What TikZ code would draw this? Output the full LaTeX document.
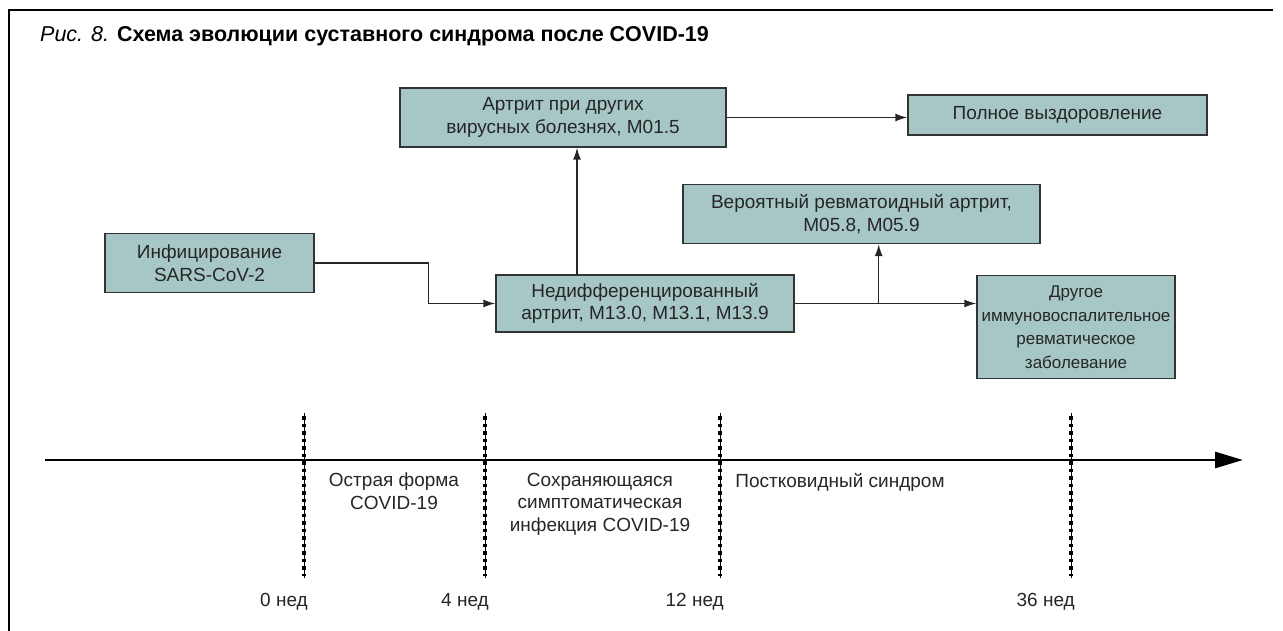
\documentclass[tikz,border=0pt]{standalone}
\usepackage{fontspec}
\setmainfont{Liberation Sans}
\usepackage{tikz}
\usetikzlibrary{arrows.meta,positioning}
\definecolor{boxfill}{HTML}{A6C7C5}
\definecolor{boxline}{HTML}{333333}

\begin{document}
\begin{tikzpicture}[x=1pt, y=-1pt, font=\fontsize{19}{22.5}\selectfont,
	box/.style={draw=boxline, fill=boxfill, line width=1.4pt, align=center, inner sep=0pt, text=black!85},
	link/.style={draw=black!85, line width=1.4pt, -{Latex[length=12pt,width=8pt]}},
	phase/.style={align=center, anchor=north, inner sep=0pt, text=black!85}]
	\useasboundingbox (0,0) rectangle (1283,631);
	% frame and title
	\draw[line width=1.4pt] (9,631) -- (9,10) -- (1273,10);
	\node[anchor=base west, inner sep=0pt] (title) at (40,42) {\fontsize{21.5}{24}\selectfont\textit{Рис. 8.} \textbf{Схема эволюции суставного синдрома после COVID-19}};
	% boxes
	\node[box, minimum width=209pt, minimum height=59pt] (inf) at (209.5,263) {Инфицирование\\SARS-CoV-2};
	\node[box, minimum width=298pt, minimum height=57pt] (undiff) at (645,303.5) {Недифференцированный\\артрит, M13.0, M13.1, M13.9};
	\node[box, minimum width=326pt, minimum height=59pt] (viral) at (563,117.5) {Артрит при других\\вирусных болезнях, M01.5};
	\node[box, minimum width=299pt, minimum height=40pt] (recov) at (1057.5,115) {Полное выздоровление};
	\node[box, minimum width=357pt, minimum height=59pt] (ra) at (861.5,214) {Вероятный ревматоидный артрит,\\M05.8, M05.9};
	\node[box, minimum width=198pt, minimum height=103pt, font=\fontsize{17}{23.5}\selectfont] (other) at (1076,327) {Другое\\иммуновоспалительное\\ревматическое\\заболевание};
	% links
	\coordinate (up) at ([xshift=-68pt]undiff.north);
	\coordinate (fork) at ([xshift=84pt]undiff.east);
	\draw[link] (inf.east) -- ++(114,0) |- (undiff.west);
	\draw[link] (up) -- (up |- viral.south);
	\draw[link] (viral.east) -- (viral.east -| recov.west);
	\draw[link] (undiff.east) -- (undiff.east -| other.west);
	\draw[link] (fork) -- (fork |- ra.south);
	% time axis
	\coordinate (t0) at (45,460);
	\coordinate (tend) at (1243,460);
	\draw[line width=2.8pt, -{Triangle[length=28pt,width=16pt]}] (t0) -- (tend);
	\foreach \x/\n in {304/0, 485/4, 720/12, 1071/36} {
		\draw[line width=0.8pt] (\x,413) -- (\x,578);
		\draw[line width=3.5pt, dash pattern=on 3.5pt off 4pt] (\x,416) -- (\x,576);
		\node[anchor=east, inner sep=0pt, text=black!85] (w\n) at (\x+4,602) {\n~нед};
	}
	% periods
	\node[phase] (acute) at (394,473) {Острая форма\\COVID-19};
	\node[phase] (persist) at (600,473) {Сохраняющаяся\\симптоматическая\\инфекция COVID-19};
	\node[phase] (post) at (840,473) {Постковидный синдром};
\end{tikzpicture}
\end{document}
